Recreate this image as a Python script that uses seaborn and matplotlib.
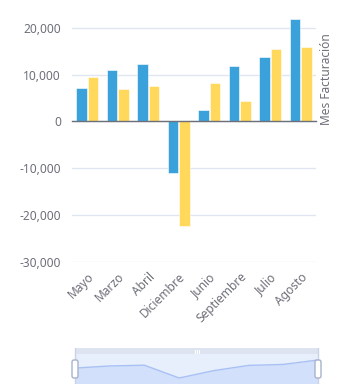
import numpy as np
import pandas as pd
import matplotlib
matplotlib.use("Agg")
import matplotlib.pyplot as plt
import matplotlib.transforms as mtransforms
from matplotlib.patches import FancyBboxPatch, Rectangle
from matplotlib.ticker import FuncFormatter, FixedLocator
import seaborn as sns

# ---- data ----
meses = ["Mayo", "Marzo", "Abril", "Diciembre", "Junio", "Septiembre", "Julio", "Agosto"]
serie_a = [7050, 10900, 12240, -11100, 2400, 11900, 13700, 21800]
serie_b = [9470, 6840, 7540, -22300, 8120, 4340, 15400, 15800]
y_ticks = [-30000, -20000, -10000, 0, 10000, 20000]
axis_name = "Mes Facturación"

df = pd.DataFrame({
    "Mes": meses * 2,
    "Valor": serie_a + serie_b,
    "Serie": ["A"] * len(meses) + ["B"] * len(meses),
})

sns.set_theme(style="white")
plt.rcParams["font.family"] = ["Noto Sans", "DejaVu Sans"]

TXT = "#6E7079"
GRID = "#E0E6F1"
BLUE = "#3AA1DA"
YELLOW = "#FFD85C"

W, H = 339, 384
fig = plt.figure(figsize=(W / 100, H / 100), dpi=100)
ax = fig.add_axes([72 / W, 1 - 262 / H, (316 - 72) / W, (262 - 4.3) / H])

sns.barplot(data=df, x="Mes", y="Valor", hue="Serie", order=meses,
            palette=[BLUE, YELLOW], width=0.78, gap=0.12, ax=ax,
            legend=False, edgecolor="white", linewidth=0.4, saturation=1)

ax.set_ylim(-30000, 25000)
ax.set_xlim(-0.5, len(meses) - 0.5)
ax.set_yticks(y_ticks)
ax.yaxis.set_major_formatter(FuncFormatter(lambda v, p: f"{int(v):,}"))
ax.tick_params(axis="y", length=0, labelsize=8.6, labelcolor=TXT, pad=8)
ax.grid(axis="y", color=GRID, linewidth=1)
ax.set_axisbelow(True)
for s in ["left", "right", "top"]:
    ax.spines[s].set_visible(False)
ax.spines["bottom"].set_position(("data", 0))
ax.spines["bottom"].set_color(TXT)
ax.spines["bottom"].set_linewidth(1)
ax.set_xlabel("")
ax.set_ylabel("")
# boundary ticks on zero axis, no labels
ax.xaxis.set_major_locator(FixedLocator(np.arange(-0.5, len(meses), 1.0)))
ax.set_xticklabels([])
ax.tick_params(axis="x", direction="out", length=5, color=TXT, width=1)

# category labels at bottom
sec = ax.secondary_xaxis("bottom")
sec.set_xticks(range(len(meses)))
sec.set_xticklabels(meses, rotation=45, ha="right", rotation_mode="anchor",
                    fontsize=8.6, color=TXT)
sec.tick_params(length=0, pad=6)
sec.spines["bottom"].set_visible(False)

fig.text(327 / W, 1 - 125 / H, axis_name, rotation=90, ha="center", va="bottom",
         fontsize=8.6, color=TXT)

# ---- data zoom slider ----
sx0, sx1, sy_top, sy_bot = 75, 318, 348, 384
sax = fig.add_axes([sx0 / W, 1 - sy_bot / H, (sx1 - sx0) / W, (sy_bot - sy_top) / H])
sax.set_xlim(0, len(meses) - 1)
sax.set_ylim(-22070, 43730)
sax.axis("off")
sax.add_patch(Rectangle((0, 0), 1, 1, transform=sax.transAxes,
                        facecolor="#E7EEFC", edgecolor="none", zorder=0))
xs = np.arange(len(meses))
sax.fill_between(xs, serie_a, -22070, color="#D3E0FB", zorder=1, linewidth=0)
sns.lineplot(x=xs, y=serie_a, ax=sax, color="#A8C1F4", linewidth=1, zorder=2)
sax.add_patch(Rectangle((0, 30 / 36), 1, 6 / 36, transform=sax.transAxes,
                        facecolor="#DDE3F1", edgecolor="none", zorder=3))
sax.plot([0, 0], [0, 1], transform=sax.transAxes, color="#C9D2E6", lw=1, zorder=4, clip_on=False)
sax.plot([1, 1], [0, 1], transform=sax.transAxes, color="#C9D2E6", lw=1, zorder=4, clip_on=False)

ident = mtransforms.IdentityTransform()
for hx in (sx0, sx1):
    p = FancyBboxPatch((hx - 3, H - 378), 6, 18, boxstyle="round,pad=0,rounding_size=2",
                       facecolor="white", edgecolor="#A7B3CC", linewidth=1,
                       transform=ident, zorder=10)
    fig.add_artist(p)
for dx in (-2, 0, 2):
    fig.add_artist(plt.Line2D([197 + dx, 197 + dx], [H - 353, H - 350], color="white",
                              lw=0.8, transform=ident, zorder=11))

fig.savefig("out.png", dpi=100)
